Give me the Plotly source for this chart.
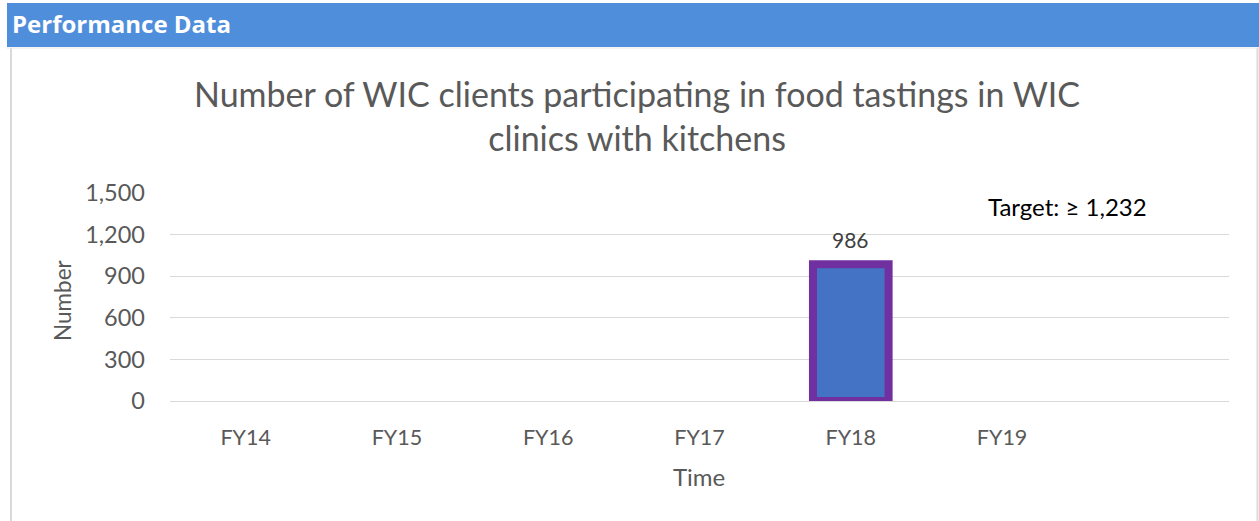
import plotly.graph_objects as go

W, H = 1259, 521

categories = ["FY14", "FY15", "FY16", "FY17", "FY18", "FY19"]
values = [None, None, None, None, 986, None]
y_ticks = [0, 300, 600, 900, 1200, 1500]
y_tick_labels = ["0", "300", "600", "900", "1,200", "1,500"]
title_text = "Number of WIC clients participating in food tastings in WIC<br>clinics with kitchens"
target_text = "Target: \u2265 1,232"
header_text = "Performance Data"

FONT = "Lato, Open Sans, sans-serif"
GREY = "#595959"

def px(x):
    return x / W

def py(y):
    return 1 - y / H

fig = go.Figure()
fig.add_trace(go.Bar(
    x=categories,
    y=values,
    width=0.5,
    marker=dict(color="#4472C4", line=dict(color="#7030A0", width=8)),
    hoverinfo="skip",
))

annotations = []
for c, v in zip(categories, values):
    if v is not None:
        annotations.append(dict(
            text=f"{v:,}", x=c, y=v, xref="x", yref="y",
            xanchor="center", yanchor="middle", yshift=25,
            showarrow=False, font=dict(family=FONT, size=21, color="#404040")))

annotations += [
    dict(text="<b>" + header_text + "</b>", xref="paper", yref="paper",
         x=px(10), y=py(23), xanchor="left", yanchor="middle",
         showarrow=False, font=dict(family="Open Sans, sans-serif", size=24, color="white")),
    dict(text=title_text, xref="paper", yref="paper",
         x=px(637), y=py(115), xanchor="center", yanchor="middle",
         showarrow=False, align="center",
         font=dict(family=FONT, size=34, color=GREY)),
    dict(text=target_text, xref="paper", yref="paper",
         x=px(1067), y=py(207), xanchor="center", yanchor="middle",
         showarrow=False, font=dict(family=FONT, size=24, color="black")),
    dict(text="Time", xref="paper", yref="paper",
         x=px(699), y=py(476), xanchor="center", yanchor="middle",
         showarrow=False, font=dict(family=FONT, size=24, color=GREY)),
    dict(text="Number", xref="paper", yref="paper",
         x=px(62), y=py(300), xanchor="center", yanchor="middle",
         textangle=-90,
         showarrow=False, font=dict(family=FONT, size=22.5, color=GREY)),
]

fig.update_layout(
    width=W, height=H,
    margin=dict(l=0, r=0, t=0, b=0, autoexpand=False),
    paper_bgcolor="white", plot_bgcolor="white",
    showlegend=False,
    font=dict(family=FONT, color=GREY),
    xaxis=dict(
        domain=[px(170), px(1229)],
        type="category",
        range=[-0.5, 6.5],
        showgrid=False, zeroline=False, showline=False,
        tickfont=dict(size=21.5, color=GREY),
        ticklabelstandoff=21,
        fixedrange=True,
    ),
    yaxis=dict(
        domain=[py(401), py(193)],
        range=[0, 1500],
        tickvals=y_ticks, ticktext=y_tick_labels,
        showgrid=True, gridcolor="#D9D9D9", gridwidth=1,
        zeroline=True, zerolinecolor="#D9D9D9", zerolinewidth=1,
        showline=False,
        tickfont=dict(size=23.5, color=GREY),
        ticklabelstandoff=24,
        fixedrange=True,
    ),
    shapes=[
        dict(type="rect", xref="paper", yref="paper",
             x0=px(7), x1=px(1259), y0=py(47), y1=py(3),
             fillcolor="#4F8EDB", line=dict(width=0), layer="below"),
        dict(type="line", xref="paper", yref="paper",
             x0=px(11), x1=px(11), y0=py(48), y1=py(521),
             line=dict(color="#D9D9D9", width=2)),
        dict(type="line", xref="paper", yref="paper",
             x0=px(1257.5), x1=px(1257.5), y0=py(48), y1=py(521),
             line=dict(color="#D9D9D9", width=2)),
        dict(type="line", xref="paper", yref="paper",
             x0=px(7), x1=px(1259), y0=py(48), y1=py(48),
             line=dict(color="#E6E6E6", width=1)),
    ],
    annotations=annotations,
)

fig.write_html("out.html", config={"displayModeBar": False},
               post_script="document.body.style.margin='0';document.body.style.overflow='hidden';")
